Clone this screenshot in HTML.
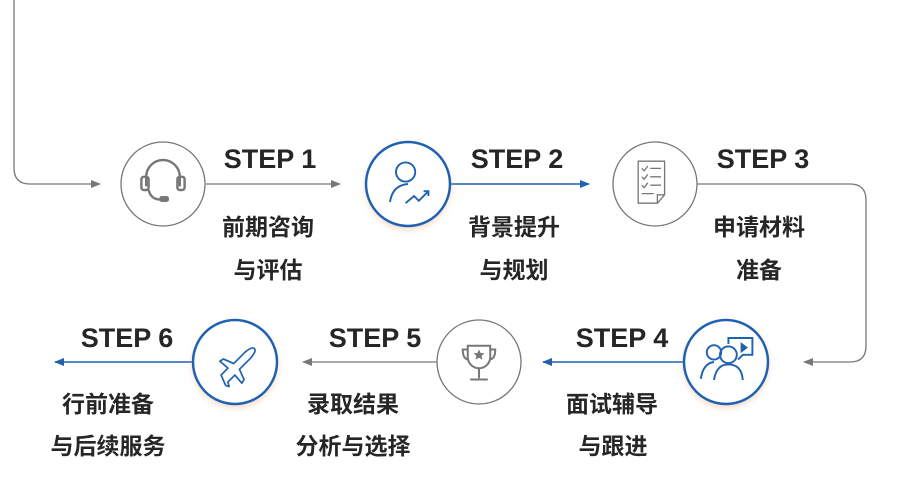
<!DOCTYPE html>
<html><head><meta charset="utf-8"><style>
html,body{margin:0;padding:0;background:#fff;width:900px;height:487px;overflow:hidden}
svg text{font-family:"Liberation Sans","Noto Sans CJK SC",sans-serif;font-weight:bold;fill:#262626}
.s{font-size:27px}
.c{font-size:23px}
</style></head><body>
<svg width="900" height="487" viewBox="0 0 900 487" xmlns="http://www.w3.org/2000/svg">
<defs>
<marker id="ag" markerWidth="10" markerHeight="8" refX="9" refY="4" orient="auto" markerUnits="userSpaceOnUse"><path d="M0,0 L10,4 L0,8 Z" fill="#777"/></marker>
<marker id="ab" markerWidth="10" markerHeight="8" refX="9" refY="4" orient="auto" markerUnits="userSpaceOnUse"><path d="M0,0 L10,4 L0,8 Z" fill="#1f62b0"/></marker>
<filter id="sh" x="-30%" y="-30%" width="160%" height="160%"><feDropShadow dx="0" dy="3" stdDeviation="3" flood-color="#e8a070" flood-opacity="0.35"/></filter>
</defs>
<path d="M14,0 V168 Q14,184 30,184 H100" fill="none" stroke="#777" stroke-width="1.3" marker-end="url(#ag)"/>
<line x1="206" y1="184" x2="340" y2="184" stroke="#777" stroke-width="1.3" marker-end="url(#ag)"/>
<line x1="451" y1="184" x2="589" y2="184" stroke="#1f62b0" stroke-width="1.5" marker-end="url(#ab)"/>
<path d="M697,184 H850 Q866,184 866,200 V346 Q866,362 850,362 H804" fill="none" stroke="#777" stroke-width="1.3" marker-end="url(#ag)"/>
<line x1="684" y1="362" x2="543" y2="362" stroke="#1f62b0" stroke-width="1.5" marker-end="url(#ab)"/>
<line x1="437" y1="362" x2="303" y2="362" stroke="#777" stroke-width="1.3" marker-end="url(#ag)"/>
<line x1="192" y1="362" x2="55" y2="362" stroke="#1f62b0" stroke-width="1.5" marker-end="url(#ab)"/>
<circle cx="163" cy="184" r="42" fill="#fff" stroke="#777" stroke-width="1.3"/>
<circle cx="408" cy="184" r="42" fill="#fff" stroke="#1f62b0" stroke-width="2.5" filter="url(#sh)"/>
<circle cx="655" cy="184" r="42" fill="#fff" stroke="#777" stroke-width="1.3"/>
<circle cx="726" cy="362" r="42" fill="#fff" stroke="#1f62b0" stroke-width="2.5" filter="url(#sh)"/>
<circle cx="479" cy="362" r="42" fill="#fff" stroke="#777" stroke-width="1.3"/>
<circle cx="235" cy="362" r="42" fill="#fff" stroke="#1f62b0" stroke-width="2.5" filter="url(#sh)"/>
<g transform="translate(163,184) scale(1.2) translate(-163,-184)">
<g fill="none" stroke="#777" stroke-width="2">
<path d="M149,186 V178 A14,14 0 0 1 177,178 V186"/>
<rect x="145" y="178" width="6" height="11" rx="2"/>
<rect x="175" y="178" width="6" height="11" rx="2"/>
<path d="M151,189 Q153,197 161,197"/>
</g>
<rect x="160" y="194" width="8" height="5" rx="2" fill="#777"/>
</g>
<g transform="translate(408,184) scale(1.2) translate(-408,-184)" fill="none" stroke="#1f62b0" stroke-width="1.6">
<circle cx="406" cy="174" r="8"/>
<path d="M393,199 Q395,185 408,184"/>
<path d="M406,200 L413,194 L417,198 L425,190"/>
<path d="M421,190 H425 V194"/>
</g>
<g transform="translate(655,184) scale(1.2) translate(-655,-184)" fill="none" stroke="#777" stroke-width="1.1">
<path d="M641,165 H663 V193 L657,200 H641 Z"/>
<path d="M657,200 V193 H663"/>
<path d="M644,171 l2,2 l3,-4 M644,178 l2,2 l3,-4 M644,185 l2,2 l3,-4"/>
<path d="M651,171 H660 M651,178 H660 M651,185 H660 M644,192 H654"/>
</g>
<g transform="translate(726,362) scale(1.2) translate(-726,-362)" fill="none" stroke="#1f62b0" stroke-width="1.6">
<circle cx="716" cy="354" r="6"/>
<circle cx="728" cy="356" r="7"/>
<path d="M705,376 Q707,363 716,362"/>
<path d="M716,377 Q718,364 728,364 Q739,364 740,377"/>
<path d="M728,347 V342 H748 V356 H740 L736,360"/>
<path d="M739,347 l4,3 l-4,3 Z" fill="#1f62b0"/>
</g>
<g transform="translate(479,362) scale(1.25) translate(-479,-362)">
<g fill="none" stroke="#777" stroke-width="1.6">
<path d="M470,349 H488 V358 A9,9 0 0 1 470,358 Z"/>
<path d="M470,352 H466 Q466,360 471,360 M488,352 H492 Q492,360 487,360"/>
<path d="M479,367 V375 M472,376 H486"/>
</g>
<path d="M479,352 l1.3,2.8 3,.3 -2.2,2 .6,3 -2.7,-1.5 -2.7,1.5 .6,-3 -2.2,-2 3,-.3 Z" fill="#777"/>
</g>
<g transform="translate(236,367) scale(1.15) translate(-236,-367)" fill="none" stroke="#1f62b0" stroke-width="1.5" stroke-linejoin="round">
<path d="M223,374 L229,368 L222,362 L225,360 L234,364 L244,354 Q250,349 252,351 Q254,353 249,359 L239,369 L243,378 L241,381 L235,374 L229,380 L230,384 L227,383 Z"/>
</g>
<text class="s" x="270" y="168" text-anchor="middle">STEP 1</text>
<text class="s" x="517" y="168" text-anchor="middle">STEP 2</text>
<text class="s" x="763" y="168" text-anchor="middle">STEP 3</text>
<text class="s" x="622" y="347" text-anchor="middle">STEP 4</text>
<text class="s" x="375" y="347" text-anchor="middle">STEP 5</text>
<text class="s" x="127" y="347" text-anchor="middle">STEP 6</text>
<text class="c" x="268" y="235" text-anchor="middle">前期咨询</text>
<text class="c" x="268" y="278" text-anchor="middle">与评估</text>
<text class="c" x="514" y="235" text-anchor="middle">背景提升</text>
<text class="c" x="514" y="278" text-anchor="middle">与规划</text>
<text class="c" x="759" y="235" text-anchor="middle">申请材料</text>
<text class="c" x="759" y="278" text-anchor="middle">准备</text>
<text class="c" x="612" y="412" text-anchor="middle">面试辅导</text>
<text class="c" x="613" y="454" text-anchor="middle">与跟进</text>
<text class="c" x="353" y="412" text-anchor="middle">录取结果</text>
<text class="c" x="353" y="454" text-anchor="middle">分析与选择</text>
<text class="c" x="108" y="412" text-anchor="middle">行前准备</text>
<text class="c" x="108" y="454" text-anchor="middle">与后续服务</text>
</svg>
</body></html>
